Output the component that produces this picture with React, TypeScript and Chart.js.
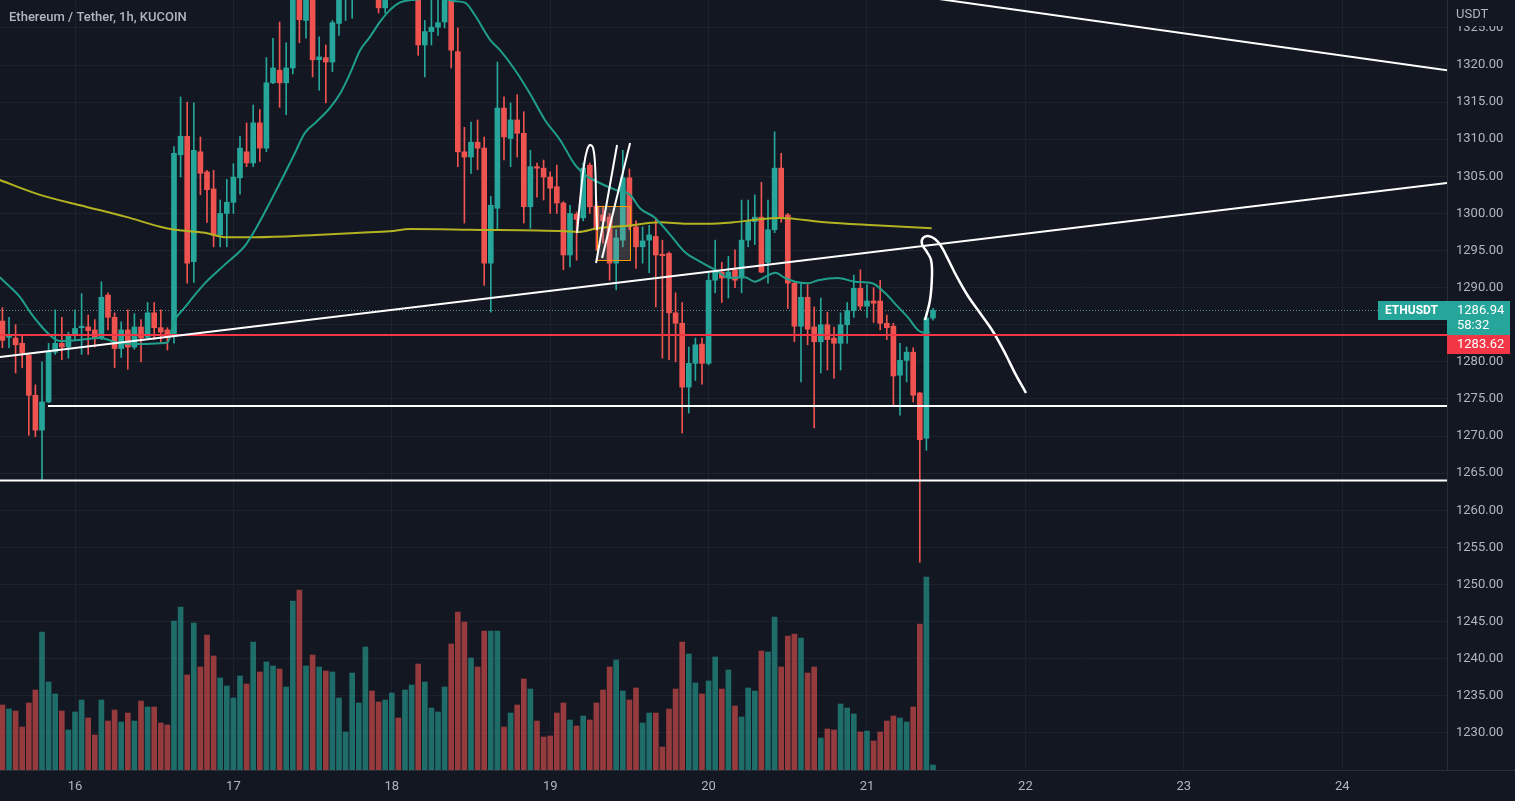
import React, { useEffect, useRef } from "react";
import { Chart, registerables } from "chart.js";

Chart.register(...registerables);

const TITLE = "Ethereum / Tether, 1h, KUCOIN";
const SYMBOL = "ETHUSDT";
const CURRENCY = "USDT";
const LAST_PRICE = 1286.94;
const COUNTDOWN = "58:32";
const LINE_PRICE = 1283.62;

// hours since the 16th, 00:00
const HOUR = [
  -11, -10, -9, -8, -7, -6, -5, -4, -3, -2,
  -1, 0, 1, 2, 3, 4, 5, 6, 7, 8,
  9, 10, 11, 12, 13, 14, 15, 16, 17, 18,
  19, 20, 21, 22, 23, 24, 25, 26, 27, 28,
  29, 30, 31, 32, 33, 34, 35, 36, 37, 38,
  39, 40, 41, 42, 43, 44, 45, 46, 47, 48,
  49, 50, 51, 52, 53, 54, 55, 56, 57, 58,
  59, 60, 61, 62, 63, 64, 65, 66, 67, 68,
  69, 70, 71, 72, 73, 74, 75, 76, 77, 78,
  79, 80, 81, 82, 83, 84, 85, 86, 87, 88,
  89, 90, 91, 92, 93, 94, 95, 96, 97, 98,
  99, 100, 101, 102, 103, 104, 105, 106, 107, 108,
  109, 110, 111, 112, 113, 114, 115, 116, 117, 118,
  119, 120, 121, 122, 123, 124, 125, 126, 127, 128,
  129, 130,
];

const OPEN = [
  1285.5, 1283.3, 1283.2, 1282.5, 1280.9, 1275.5, 1270.8, 1274.6, 1281.3, 1282.5,
  1282.0, 1283.6, 1284.6, 1284.7, 1284.3, 1283.2, 1289.0, 1286.0, 1281.8, 1284.3,
  1282.0, 1284.7, 1283.3, 1286.6, 1284.6, 1284.3, 1283.4, 1307.9, 1310.4, 1293.5,
  1308.3, 1305.6, 1303.3, 1297.1, 1300.0, 1301.5, 1304.8, 1308.3, 1306.8, 1312.2,
  1308.8, 1317.6, 1319.3, 1317.6, 1319.6, 1332.0, 1326.0, 1331.0, 1320.7, 1321.0,
  1320.4, 1325.6, 1330.0, 1332.0, 1333.0, 1334.5, 1336.0, 1333.0, 1327.7, 1331.0,
  1333.0, 1331.0, 1332.5, 1334.0, 1322.7, 1324.5, 1325.1, 1325.8, 1330.5, 1321.8,
  1308.3, 1307.6, 1309.6, 1308.8, 1293.3, 1300.7, 1314.2, 1310.1, 1312.6, 1310.8,
  1300.9, 1306.3, 1306.1, 1304.9, 1303.6, 1301.4, 1294.4, 1299.9, 1299.4, 1306.5,
  1301.0, 1299.8, 1299.5, 1293.3, 1296.4, 1304.8, 1298.2, 1295.5, 1296.4, 1296.9,
  1294.5, 1294.6, 1286.6, 1285.2, 1276.6, 1279.8, 1282.4, 1279.8, 1291.0, 1292.1,
  1291.3, 1292.4, 1291.3, 1296.4, 1298.9, 1299.5, 1293.4, 1297.8, 1306.1, 1299.8,
  1290.6, 1284.8, 1288.7, 1284.7, 1282.7, 1285.0, 1283.2, 1282.5, 1285.0, 1286.9,
  1289.9, 1287.5, 1288.2, 1288.2, 1285.2, 1284.8, 1278.2, 1280.2, 1281.3, 1275.8,
  1269.7, 1285.9,
];

const HIGH = [
  1287.3, 1286.0, 1285.0, 1283.6, 1281.0, 1276.9, 1280.0, 1282.5, 1287.0, 1286.0,
  1284.0, 1287.0, 1289.2, 1286.3, 1285.7, 1290.8, 1289.3, 1286.6, 1285.4, 1287.0,
  1286.5, 1285.7, 1288.0, 1288.0, 1287.0, 1284.6, 1309.0, 1315.7, 1315.0, 1314.9,
  1310.3, 1305.8, 1305.8, 1301.8, 1304.6, 1306.7, 1310.4, 1312.2, 1314.6, 1314.0,
  1321.0, 1323.6, 1325.8, 1323.0, 1333.0, 1334.0, 1333.0, 1332.0, 1323.8, 1322.7,
  1326.0, 1331.0, 1334.0, 1335.0, 1336.0, 1338.0, 1337.0, 1334.0, 1332.0, 1334.5,
  1334.0, 1334.0, 1335.5, 1335.0, 1326.0, 1328.8, 1329.5, 1331.5, 1331.5, 1325.0,
  1311.6, 1312.3, 1312.6, 1310.3, 1302.3, 1320.4, 1315.7, 1314.9, 1316.0, 1313.7,
  1308.5, 1306.8, 1307.2, 1305.6, 1306.5, 1301.6, 1301.1, 1300.2, 1306.8, 1306.8,
  1301.5, 1301.0, 1300.0, 1297.8, 1308.5, 1306.0, 1299.0, 1298.2, 1298.4, 1299.4,
  1296.4, 1294.8, 1289.3, 1288.0, 1282.0, 1283.2, 1283.2, 1292.0, 1296.4, 1293.4,
  1294.2, 1295.1, 1301.8, 1301.8, 1302.5, 1304.2, 1301.8, 1311.0, 1308.1, 1300.0,
  1290.8, 1290.6, 1290.4, 1287.4, 1288.6, 1286.7, 1284.7, 1286.6, 1288.0, 1291.7,
  1292.4, 1290.4, 1290.0, 1291.0, 1286.3, 1285.2, 1282.5, 1282.0, 1281.9, 1275.9,
  1286.6, 1287.2,
];

const LOW = [
  1281.9, 1281.9, 1278.5, 1279.2, 1270.1, 1269.9, 1264.0, 1274.5, 1281.0, 1280.3,
  1280.5, 1283.0, 1281.0, 1281.0, 1282.0, 1283.0, 1284.3, 1279.2, 1280.6, 1279.0,
  1281.7, 1280.0, 1283.2, 1283.0, 1282.5, 1281.6, 1282.5, 1304.9, 1290.6, 1290.7,
  1302.5, 1298.8, 1295.5, 1295.5, 1295.5, 1300.0, 1302.6, 1306.3, 1306.3, 1307.0,
  1308.3, 1317.5, 1314.3, 1313.3, 1318.8, 1323.0, 1323.6, 1318.4, 1316.6, 1314.9,
  1319.1, 1324.0, 1326.0, 1326.3, 1330.0, 1331.0, 1330.0, 1327.0, 1327.0, 1329.5,
  1329.5, 1329.5, 1330.0, 1321.3, 1318.4, 1322.7, 1324.0, 1325.0, 1319.6, 1306.3,
  1298.7, 1305.4, 1305.9, 1290.3, 1286.7, 1297.8, 1307.2, 1306.3, 1307.6, 1298.7,
  1298.0, 1302.2, 1301.8, 1300.0, 1300.0, 1292.4, 1292.8, 1293.7, 1299.0, 1300.0,
  1295.0, 1296.0, 1291.0, 1289.7, 1295.5, 1297.8, 1292.6, 1293.3, 1292.0, 1287.4,
  1280.5, 1280.3, 1280.0, 1270.4, 1273.1, 1277.5, 1277.0, 1279.6, 1289.3, 1288.0,
  1288.6, 1290.0, 1289.3, 1295.5, 1295.8, 1292.0, 1290.6, 1297.4, 1298.8, 1287.2,
  1282.7, 1277.3, 1282.3, 1271.1, 1278.5, 1278.9, 1277.8, 1278.9, 1282.5, 1286.0,
  1287.0, 1286.0, 1285.3, 1284.3, 1283.0, 1274.2, 1272.8, 1277.3, 1274.6, 1253.0,
  1268.1, 1285.6,
];

const CLOSE = [
  1282.9, 1283.5, 1282.3, 1281.2, 1275.5, 1270.8, 1274.6, 1281.3, 1282.5, 1282.0,
  1283.6, 1284.5, 1284.8, 1284.2, 1283.2, 1288.7, 1286.0, 1281.8, 1284.3, 1282.0,
  1284.7, 1283.2, 1286.6, 1284.6, 1284.0, 1283.4, 1308.1, 1310.4, 1293.3, 1308.5,
  1305.4, 1303.2, 1297.1, 1300.0, 1301.5, 1304.9, 1308.8, 1306.8, 1312.2, 1308.8,
  1317.6, 1319.6, 1317.6, 1319.6, 1331.0, 1326.1, 1331.0, 1320.7, 1321.1, 1320.4,
  1325.7, 1330.0, 1332.0, 1333.0, 1334.5, 1336.0, 1333.0, 1327.7, 1331.0, 1333.0,
  1331.0, 1332.5, 1334.0, 1322.7, 1324.5, 1325.1, 1325.7, 1330.5, 1322.0, 1308.3,
  1307.6, 1309.6, 1308.8, 1293.3, 1301.1, 1314.2, 1310.3, 1312.6, 1310.8, 1300.9,
  1306.3, 1306.1, 1304.9, 1303.4, 1301.4, 1294.4, 1300.0, 1299.2, 1306.1, 1300.9,
  1297.8, 1299.0, 1293.3, 1296.7, 1304.8, 1298.2, 1295.5, 1296.3, 1297.1, 1294.4,
  1294.3, 1286.6, 1285.2, 1276.6, 1279.8, 1282.3, 1279.8, 1291.0, 1292.1, 1291.3,
  1292.1, 1291.0, 1296.4, 1298.9, 1299.5, 1292.1, 1297.8, 1306.1, 1299.5, 1290.6,
  1284.8, 1288.7, 1284.4, 1282.7, 1285.0, 1283.0, 1282.5, 1285.0, 1286.9, 1289.9,
  1287.5, 1288.2, 1287.9, 1285.2, 1284.6, 1278.1, 1280.2, 1281.3, 1275.5, 1269.5,
  1285.9, 1286.94,
];

const VOLUME = [
  65, 61, 59, 43, 67, 80, 138, 88, 76, 59,
  40, 58, 70, 52, 35, 70, 49, 60, 48, 57,
  49, 69, 63, 63, 47, 45, 149, 163, 95, 147,
  103, 135, 114, 92, 84, 72, 94, 86, 128, 98,
  108, 104, 101, 83, 169, 180, 104, 115, 103, 99,
  98, 72, 38, 97, 67, 123, 79, 68, 70, 77,
  52, 80, 85, 106, 88, 62, 58, 83, 126, 158,
  148, 112, 103, 139, 139, 139, 43, 57, 65, 91,
  81, 49, 33, 34, 57, 67, 50, 44, 54, 50,
  67, 80, 103, 110, 79, 70, 82, 47, 57, 57,
  23, 61, 81, 128, 116, 87, 76, 89, 113, 81,
  100, 64, 53, 82, 79, 119, 118, 153, 103, 134,
  136, 132, 97, 103, 32, 41, 40, 66, 62, 56,
  38, 39, 29, 38, 49, 54, 52, 48, 63, 146,
  193, 5,
];

// moving averages (hour, price)
const MA_FAST_H = [
  -11.4, -9.85, -8.3, -6.8, -5.3, -3.8, -2.3, 0, 3.8, 6.8, 9.8, 12.9, 14.0, 15.0,
  16.7, 19.7, 22.7, 25.8, 27.3, 30.3, 33.3, 34.8, 36.4, 38.6, 40.2, 41.7, 43.2,
  44.7, 46.2, 47.7, 49.2, 51.5, 55.3, 57.6, 59.1, 60.6, 62.9, 64.4, 66.7, 68.9,
  71.2, 73.5, 75.8, 77.3, 79.5, 81.8, 84.1, 85.6, 87.9, 90.2, 92.4, 94.7, 97.0,
  99.2, 101.5, 103.0, 104.5, 106.1, 107.6, 109.1, 111.1, 112.6, 115.6, 118.2,
  120.8, 122.7, 124.7, 126.2, 127.7, 128.8, 129.5,
];
const MA_FAST_P = [
  1291.4, 1290.1, 1288.7, 1286.7, 1285.0, 1283.6, 1282.8, 1282.9, 1283.2, 1282.5,
  1282.4, 1282.5, 1282.6, 1285.4, 1287.4, 1290.6, 1293.1, 1295.7, 1297.8, 1302.8,
  1308.1, 1310.8, 1312.2, 1314.2, 1316.2, 1318.9, 1322.0, 1323.8, 1325.8, 1327.4,
  1328.4, 1328.8, 1329.0, 1328.6, 1328.4, 1326.7, 1323.4, 1322.0, 1319.3, 1316.2,
  1312.6, 1309.9, 1306.5, 1305.2, 1304.1, 1303.2, 1302.5, 1300.7, 1299.4, 1297.1,
  1294.8, 1293.5, 1292.4, 1291.3, 1291.4, 1290.8, 1291.4, 1292.0, 1291.3, 1290.8,
  1290.6, 1291.0, 1291.3, 1290.8, 1290.6, 1289.3, 1287.4, 1286.0, 1284.3, 1283.9,
  1284.0,
];
const MA_SLOW_H = [
  -11.4, -5.3, 0.76, 7.9, 12.9, 15.2, 19.7, 22.7, 27.3, 36.4, 43.2, 47.7, 50.8,
  59.8, 74.2, 76.2, 79.2, 83.3, 88.6, 92.7, 95.8, 99.7, 102.7, 106.8, 113.6, 121.2,
  129.8,
];
const MA_SLOW_P = [
  1304.5, 1302.5, 1301.1, 1299.5, 1298.2, 1297.8, 1297.4, 1296.8, 1296.8, 1297.1,
  1297.4, 1297.6, 1297.9, 1297.8, 1297.6, 1297.5, 1298.0, 1298.3, 1298.8, 1298.6,
  1298.6, 1298.8, 1299.1, 1299.4, 1298.8, 1298.4, 1298.0,
];

// axis ticks
const DAY_TICKS = [0, 24, 48, 72, 96, 120, 144, 168, 192];
const DAY_LABELS = ["16", "17", "18", "19", "20", "21", "22", "23", "24"];
const PRICE_TICKS = [
  1230, 1235, 1240, 1245, 1250, 1255, 1260, 1265, 1270, 1275, 1280, 1285, 1290,
  1295, 1300, 1305, 1310, 1315, 1320, 1325,
];
const X_MIN = -11.364;
const X_MAX = 207.88;
const Y_MIN = 1225.0;
const Y_MAX = 1328.76;
const VOL_MAX = 770;

// drawings (hour, price)
const TREND_LINE = [[-11.364, 1280.65], [207.88, 1304.1]];
const UPPER_LINE = [[110, 1331.5], [215, 1318.41]];
const SUPPORT_A = [[-4.09, 1274.05], [207.88, 1274.05]];
const SUPPORT_B = [[-11.364, 1264.0], [207.88, 1264.0]];
const LOOP_STROKE = [
  [76.07, 1297.36], [76.53, 1301.81], [77.13, 1306.52], [77.59, 1308.54],
  [78.04, 1309.22], [78.5, 1308.81], [78.8, 1306.52], [78.95, 1301.81], [79.1, 1297.76],
];
const STROKE_B = [[78.95, 1293.32], [82.13, 1309.22]];
const STROKE_C = [[79.86, 1293.99], [84.1, 1309.49]];
const BOX = { h1: 79.1, h2: 84.1, top: 1301.0, bottom: 1293.72 };
const FORECAST = [
  [128.79, 1285.63], [129.55, 1288.33], [129.85, 1291.7], [129.7, 1293.72],
  [129.09, 1294.8], [128.33, 1295.88], [128.48, 1296.68], [129.24, 1296.95],
  [130.3, 1296.55], [131.21, 1295.61], [132.12, 1294.12], [133.64, 1291.43],
  [135.3, 1288.87], [137.12, 1286.58], [138.64, 1284.69], [139.85, 1282.94],
  [141.06, 1280.92], [142.42, 1278.49], [144.09, 1275.8],
];

const BG = "#131722";
const GRID = "#1e222d";
const AXIS_LINE = "#2a2e39";
const TEXT = "#b2b5be";
const UP = "#26a69a";
const DOWN = "#ef5350";
const UP_VOL = "rgba(38,166,154,0.6)";
const DOWN_VOL = "rgba(239,83,80,0.6)";
const RED_LINE = "#f23645";
const FONT = "Roboto, 'Liberation Sans', sans-serif";

export default function App() {
  const ref = useRef<HTMLCanvasElement>(null);

  useEffect(() => {
    document.body.style.margin = "0";
    document.body.style.background = BG;
    const canvas = ref.current as HTMLCanvasElement;

    const up = HOUR.map((_, i) => CLOSE[i] >= OPEN[i]);
    const pts = (arr: number[][]) => arr.map(([x, y]) => ({ x, y }));
    const line = (label: string, data: any[], color: string, width: number, extra: any = {}) => ({
      type: "line",
      label,
      data,
      borderColor: color,
      borderWidth: width,
      pointRadius: 0,
      fill: false,
      xAxisID: "x",
      yAxisID: "y",
      clip: 0,
      order: 1,
      ...extra,
    });

    const bgPlugin = {
      id: "bg",
      beforeDraw(chart: any) {
        const c = chart.ctx;
        c.save();
        c.fillStyle = BG;
        c.fillRect(0, 0, chart.width, chart.height);
        c.restore();
      },
    };

    const priceLinePlugin = {
      id: "priceLine",
      beforeDatasetsDraw(chart: any) {
        const c = chart.ctx;
        const a = chart.chartArea;
        const yp = Math.round(chart.scales.y.getPixelForValue(LAST_PRICE)) + 0.5;
        c.save();
        c.strokeStyle = "rgba(120,170,165,0.8)";
        c.lineWidth = 1;
        c.setLineDash([1, 2]);
        c.beginPath();
        c.moveTo(a.left, yp);
        c.lineTo(a.right, yp);
        c.stroke();
        c.restore();
      },
    };

    const boxPlugin = {
      id: "rectDrawing",
      afterDatasetDraw(chart: any, args: any) {
        if (chart.data.datasets[args.index].label !== "bodies") return;
        const c = chart.ctx;
        const xs = chart.scales.x;
        const ys = chart.scales.y;
        const x1 = xs.getPixelForValue(BOX.h1);
        const x2 = xs.getPixelForValue(BOX.h2);
        const y1 = ys.getPixelForValue(BOX.top);
        const y2 = ys.getPixelForValue(BOX.bottom);
        c.save();
        c.fillStyle = "rgba(190,170,160,0.22)";
        c.fillRect(x1, y1, x2 - x1, y2 - y1);
        c.strokeStyle = "#ff9800";
        c.lineWidth = 1;
        c.strokeRect(Math.round(x1) + 0.5, Math.round(y1) + 0.5, Math.round(x2 - x1), Math.round(y2 - y1));
        c.restore();
      },
    };

    const labelPlugin = {
      id: "labels",
      afterDraw(chart: any) {
        const c = chart.ctx;
        const a = chart.chartArea;
        const ys = chart.scales.y;
        c.save();
        // axis line extension
        c.strokeStyle = AXIS_LINE;
        c.lineWidth = 1;
        c.beginPath();
        c.moveTo(a.right, Math.round(a.bottom) + 0.5);
        c.lineTo(chart.width, Math.round(a.bottom) + 0.5);
        c.stroke();
        // title
        c.fillStyle = TEXT;
        c.font = `500 13px ${FONT}`;
        c.textBaseline = "middle";
        c.textAlign = "left";
        c.fillText(TITLE, 9, 18);
        // currency label
        c.fillStyle = BG;
        c.fillRect(a.right + 1, 0, chart.width - a.right - 1, 26);
        c.fillStyle = TEXT;
        c.font = `13px ${FONT}`;
        c.fillText(CURRENCY, a.right + 9, 15);
        // last price
        const yp = Math.round(ys.getPixelForValue(LAST_PRICE));
        const top = yp - 9;
        c.fillStyle = UP;
        c.fillRect(a.right - 69, top, 69, 19);
        c.fillRect(a.right, top, 63, 34);
        c.fillStyle = "#ffffff";
        c.font = `bold 12px ${FONT}`;
        c.fillText(SYMBOL, a.right - 62, top + 10);
        c.font = `13px ${FONT}`;
        c.fillText(LAST_PRICE.toFixed(2), a.right + 10, top + 10);
        c.fillText(COUNTDOWN, a.right + 10, top + 25);
        // red line label
        const rtop = top + 34;
        c.fillStyle = RED_LINE;
        c.fillRect(a.right, rtop, 63, 19);
        c.fillStyle = "#ffffff";
        c.fillText(LINE_PRICE.toFixed(2), a.right + 10, rtop + 10);
        c.restore();
      },
    };

    const chart = new Chart(canvas, {
      type: "bar",
      data: {
        datasets: [
          line("support-a", pts(SUPPORT_A), "#ffffff", 2),
          line("support-b", pts(SUPPORT_B), "#ffffff", 2),
          line("trend", pts(TREND_LINE), "#ffffff", 2),
          line("upper", pts(UPPER_LINE), "#ffffff", 2),
          line("red-level", pts([[X_MIN, LINE_PRICE], [X_MAX, LINE_PRICE]]), RED_LINE, 2),
          line("loop", pts(LOOP_STROKE), "#ffffff", 2, { tension: 0.4 }),
          line("stroke-b", pts(STROKE_B), "#ffffff", 2),
          line("stroke-c", pts(STROKE_C), "#ffffff", 2),
          line("forecast", pts(FORECAST), "#ffffff", 2.5, { tension: 0.4 }),
          line(
            "ma-fast",
            MA_FAST_H.map((h, i) => ({ x: h, y: MA_FAST_P[i] })),
            "#1f9f8b",
            2,
            { cubicInterpolationMode: "monotone", order: 2 }
          ),
          line(
            "ma-slow",
            MA_SLOW_H.map((h, i) => ({ x: h, y: MA_SLOW_P[i] })),
            "#b3b322",
            2,
            { cubicInterpolationMode: "monotone", order: 2 }
          ),
          {
            type: "bar",
            label: "bodies",
            data: HOUR.map((h, i) => ({ x: h, y: [OPEN[i], CLOSE[i]] })),
            backgroundColor: up.map((u) => (u ? UP : DOWN)),
            borderWidth: 0,
            barThickness: 5,
            minBarLength: 1,
            grouped: false,
            xAxisID: "x",
            yAxisID: "y",
            order: 3,
          },
          {
            type: "bar",
            label: "wicks",
            data: HOUR.map((h, i) => ({ x: h, y: [LOW[i], HIGH[i]] })),
            backgroundColor: up.map((u) => (u ? UP : DOWN)),
            borderWidth: 0,
            barThickness: 1,
            grouped: false,
            xAxisID: "x",
            yAxisID: "y",
            order: 4,
          },
          {
            type: "bar",
            label: "volume",
            data: HOUR.map((h, i) => ({ x: h, y: VOLUME[i] })),
            backgroundColor: up.map((u) => (u ? UP_VOL : DOWN_VOL)),
            borderWidth: 0,
            barThickness: 5,
            grouped: false,
            xAxisID: "x",
            yAxisID: "yv",
            order: 5,
          },
        ] as any,
      },
      options: {
        responsive: false,
        animation: false,
        events: [],
        devicePixelRatio: 1,
        layout: { padding: 0 },
        plugins: { legend: { display: false }, tooltip: { enabled: false }, title: { display: false } },
        scales: {
          x: {
            type: "linear",
            position: "bottom",
            min: X_MIN,
            max: X_MAX,
            offset: false,
            grid: { color: GRID, drawTicks: false, offset: false },
            border: { color: AXIS_LINE },
            ticks: {
              color: TEXT,
              font: { family: FONT, size: 13 },
              padding: 9,
              maxRotation: 0,
              autoSkip: false,
              callback: (_v: any, i: number) => DAY_LABELS[i],
            },
            afterBuildTicks: (s: any) => {
              s.ticks = DAY_TICKS.map((v) => ({ value: v }));
            },
            afterFit: (s: any) => {
              s.height = 31;
              s.paddingLeft = 0;
              s.paddingRight = 0;
            },
          },
          y: {
            type: "linear",
            position: "right",
            min: Y_MIN,
            max: Y_MAX,
            grid: { color: GRID, drawTicks: false },
            border: { color: AXIS_LINE },
            ticks: {
              color: TEXT,
              font: { family: FONT, size: 13 },
              padding: 9,
              callback: (v: any) => Number(v).toFixed(2),
            },
            afterBuildTicks: (s: any) => {
              s.ticks = PRICE_TICKS.map((v) => ({ value: v }));
            },
            afterFit: (s: any) => {
              s.width = 68;
              s.paddingTop = 0;
              s.paddingBottom = 0;
            },
          },
          yv: { type: "linear", display: false, min: 0, max: VOL_MAX },
        },
      } as any,
      plugins: [bgPlugin, priceLinePlugin, boxPlugin, labelPlugin],
    });

    return () => chart.destroy();
  }, []);

  return (
    <div style={{ position: "fixed", left: 0, top: 0, width: 1515, height: 801, background: BG }}>
      <canvas ref={ref} width={1515} height={801} style={{ display: "block", width: 1515, height: 801 }} />
    </div>
  );
}
